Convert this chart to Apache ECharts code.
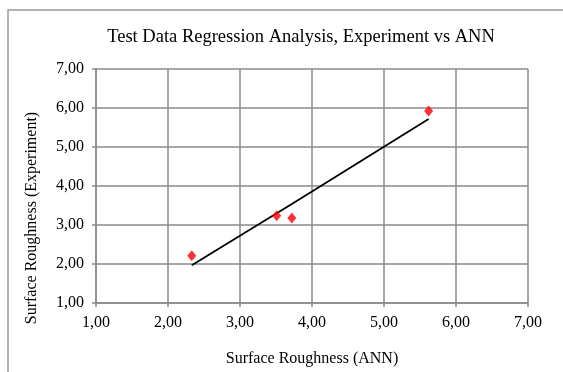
<!DOCTYPE html>
<html>
<head>
<meta charset="utf-8">
<script src="https://cdn.jsdelivr.net/npm/echarts@6/dist/echarts.min.js"></script>
<style>
  html, body { margin: 0; padding: 0; background: #fff; }
  #chart { width: 563px; height: 372px; }
</style>
</head>
<body>
<div id="chart"></div>
<script>
  const annValues = [2.33, 3.51, 3.72, 5.62];
  const experimentValues = [2.21, 3.24, 3.18, 5.92];
  const fitValues = [1.97, 3.30, 3.54, 5.72];
  const xTickLabels = ["1,00", "2,00", "3,00", "4,00", "5,00", "6,00", "7,00"];
  const yTickLabels = ["1,00", "2,00", "3,00", "4,00", "5,00", "6,00", "7,00"];

  const serif = "Liberation Serif";
  const gridColor = "#8a8a8a";

  const chart = echarts.init(document.getElementById("chart"), null, { renderer: "canvas" });

  chart.setOption({
    animation: false,
    backgroundColor: "#fff",
    title: {
      text: "Test Data Regression Analysis, Experiment vs ANN",
      left: 296,
      top: 23,
      textAlign: "center",
      textStyle: { fontFamily: serif, fontSize: 18.5, fontWeight: "normal", color: "#000" }
    },
    graphic: [
      {
        type: "rect",
        shape: { x: 8, y: 10, width: 700, height: 500 },
        style: { fill: "none", stroke: "#9a9a9a", lineWidth: 1.5 },
        silent: true
      },
      {
        type: "text",
        x: 32,
        y: 218,
        rotation: Math.PI / 2,
        style: {
          text: "Surface Roughness (Experiment)",
          fontFamily: serif,
          fontSize: 16,
          fill: "#000",
          textAlign: "center",
          textVerticalAlign: "middle"
        }
      }
    ],
    grid: { left: 96, right: 35, top: 69, bottom: 63 },
    xAxis: {
      type: "value",
      min: 1,
      max: 7,
      interval: 1,
      name: "Surface Roughness (ANN)",
      nameLocation: "middle",
      nameGap: 48,
      nameTextStyle: { fontFamily: serif, fontSize: 16, color: "#000" },
      axisLine: { show: true, lineStyle: { color: gridColor, width: 1.5 } },
      axisTick: { show: true, inside: false, length: 4, lineStyle: { color: gridColor, width: 1.5 } },
      splitLine: { show: true, lineStyle: { color: gridColor, width: 1.5 } },
      axisLabel: {
        margin: 12,
        fontFamily: serif,
        fontSize: 16,
        color: "#000",
        formatter: (v) => xTickLabels[Math.round(v) - 1]
      }
    },
    yAxis: {
      type: "value",
      min: 1,
      max: 7,
      interval: 1,
      axisLine: { show: true, lineStyle: { color: gridColor, width: 1.5 } },
      axisTick: { show: true, inside: false, length: 4, lineStyle: { color: gridColor, width: 1.5 } },
      splitLine: { show: true, lineStyle: { color: gridColor, width: 1.5 } },
      axisLabel: {
        margin: 12,
        fontFamily: serif,
        fontSize: 16,
        color: "#000",
        formatter: (v) => yTickLabels[Math.round(v) - 1]
      }
    },
    series: [
      {
        type: "line",
        data: annValues.map((x, i) => [x, fitValues[i]]),
        symbol: "none",
        lineStyle: { color: "#000", width: 1.8 },
        z: 2
      },
      {
        type: "scatter",
        data: annValues.map((x, i) => [x, experimentValues[i]]),
        symbol: "diamond",
        symbolSize: [9, 11],
        itemStyle: { color: "#ff0000" },
        z: 3
      }
    ]
  });

  window.addEventListener("resize", () => chart.resize());
</script>
</body>
</html>
